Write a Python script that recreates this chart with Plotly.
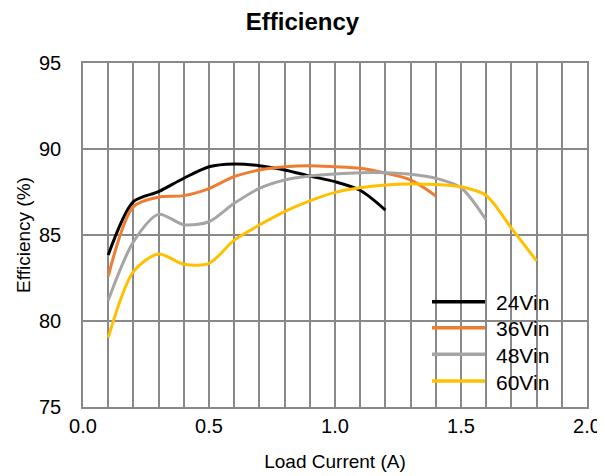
import plotly.graph_objects as go

load_24 = [0.1, 0.2, 0.3, 0.4, 0.5, 0.6, 0.7, 0.8, 0.9, 1.0, 1.1, 1.2]
eff_24 = [83.84, 86.94, 87.52, 88.3, 88.97, 89.13, 89.03, 88.78, 88.43, 88.1, 87.6, 86.45]

load_36 = [0.1, 0.2, 0.3, 0.4, 0.5, 0.6, 0.7, 0.8, 0.9, 1.0, 1.1, 1.2, 1.3, 1.4]
eff_36 = [82.6, 86.65, 87.2, 87.29, 87.7, 88.4, 88.78, 88.97, 89.03, 88.97, 88.88, 88.6, 88.2, 87.27]

load_48 = [0.1, 0.2, 0.3, 0.4, 0.5, 0.6, 0.7, 0.8, 0.9, 1.0, 1.1, 1.2, 1.3, 1.4, 1.5, 1.6]
eff_48 = [81.2, 84.6, 86.2, 85.6, 85.77, 86.84, 87.71, 88.2, 88.43, 88.55, 88.62, 88.62, 88.53, 88.3, 87.75, 85.87]

load_60 = [0.1, 0.2, 0.3, 0.4, 0.5, 0.6, 0.7, 0.8, 0.9, 1.0, 1.1, 1.2, 1.3, 1.4, 1.5, 1.6, 1.7, 1.8]
eff_60 = [79.03, 82.87, 83.9, 83.3, 83.35, 84.7, 85.58, 86.36, 86.98, 87.48, 87.75, 87.9, 87.96, 87.94, 87.8, 87.3, 85.4, 83.5]

series_names = ["24Vin", "36Vin", "48Vin", "60Vin"]
series_colors = ["#000000", "#ED7D31", "#A5A5A5", "#FFC000"]

FONT = "Arial, Liberation Sans, sans-serif"
GRID = "#898989"

# page has an 8px body margin: figure drawn at (8, 8)
W, H = 597, 468
ML, MR, MT, MB = 75, 18, 55, 69
PW, PH = W - ML - MR, H - MT - MB


def px_x(page_x):
    return (page_x - 8 - ML) / PW


def px_y(page_y):
    return (H - MB - (page_y - 8)) / PH


fig = go.Figure()
for name, xs, ys, col in zip(series_names, [load_24, load_36, load_48, load_60],
                             [eff_24, eff_36, eff_48, eff_60], series_colors):
    fig.add_trace(go.Scatter(x=xs, y=ys, name=name, mode="lines", showlegend=False,
                             line=dict(color=col, width=3, shape="spline", smoothing=0.8)))

# legend box (white, hides the gridlines) and entries
fig.add_shape(type="rect", xref="paper", yref="paper",
              x0=px_x(415), x1=px_x(565), y0=px_y(395), y1=px_y(288),
              fillcolor="white", line=dict(width=0), layer="between")
row_y = [301.7, 327.7, 354.3, 381.0]
for name, col, ry in zip(series_names, series_colors, row_y):
    fig.add_shape(type="line", xref="paper", yref="paper",
                  x0=px_x(432), x1=px_x(485), y0=px_y(ry), y1=px_y(ry),
                  line=dict(color=col, width=3.5))
    fig.add_annotation(text=name, xref="paper", yref="paper",
                       x=px_x(494), y=px_y(ry + 1), xanchor="left", yanchor="middle",
                       showarrow=False, font=dict(family=FONT, size=21, color="#000000"))

fig.update_layout(
    width=W, height=H,
    margin=dict(l=ML, r=MR, t=MT, b=MB),
    paper_bgcolor="white", plot_bgcolor="white",
    font=dict(family=FONT, size=20, color="#000000"),
    title=dict(text="<b>Efficiency</b>", x=(302.5 - 8) / W, xref="container", xanchor="center",
               y=1 - 14 / H, yref="container", yanchor="middle",
               font=dict(family=FONT, size=24, color="#000000")),
    showlegend=False,
)
fig.update_xaxes(
    range=[0, 2.0], dtick=0.5, tick0=0, tickformat=".1f",
    showgrid=True, gridcolor=GRID, gridwidth=1.5,
    minor=dict(dtick=0.1, showgrid=True, gridcolor=GRID, gridwidth=1.5),
    showline=True, linecolor=GRID, linewidth=1.5, mirror=True,
    zeroline=False, ticks="", ticklabelstandoff=0, automargin=False,
    title=dict(text="Load Current (A)", font=dict(size=19), standoff=19),
    fixedrange=True,
)
fig.update_yaxes(
    range=[75, 95], dtick=5, tick0=75,
    showgrid=True, gridcolor=GRID, gridwidth=1.5,
    showline=True, linecolor=GRID, linewidth=1.5, mirror=True,
    zeroline=False, ticks="", ticklabelstandoff=16, automargin=False,
    title=dict(text="Efficiency (%)", font=dict(size=19), standoff=3),
    fixedrange=True,
)

fig.write_html("out.html")
